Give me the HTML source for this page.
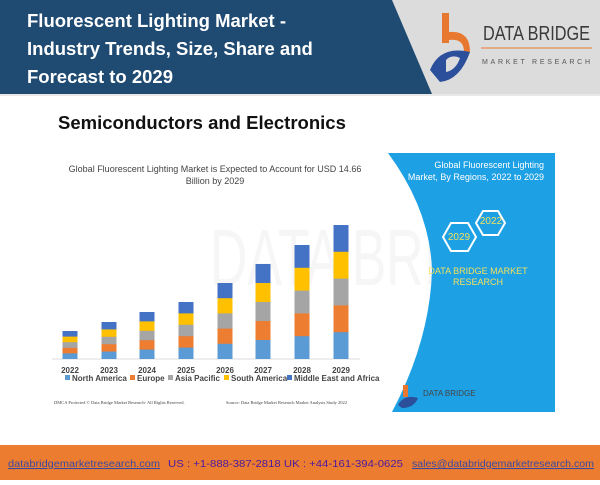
<!DOCTYPE html>
<html><head><meta charset="utf-8"><style>
body{margin:0;width:600px;height:480px;overflow:hidden;background:#fff;font-family:"Liberation Sans",sans-serif}
</style></head><body>
<svg width="600" height="480" viewBox="0 0 600 480" xmlns="http://www.w3.org/2000/svg" font-family="Liberation Sans, sans-serif">
<rect x="0" y="0" width="600" height="94" fill="#1f4a72"/>
<polygon points="392,0 600,0 600,94 432,94" fill="#dcdcdc"/>
<rect x="0" y="94" width="600" height="2" fill="#e8e8e8"/>
<g fill="#fff" font-weight="bold" font-size="18.5">
<text x="27" y="27">Fluorescent Lighting Market -</text>
<text x="27" y="55">Industry Trends, Size, Share and</text>
<text x="27" y="83">Forecast to 2029</text>
</g>
<rect x="442" y="13" width="7" height="30" fill="#e8782f"/>
<path d="M449 32 Q470 30 470 52 L464 52 Q464 38 449 40Z" fill="#e8782f"/>
<path d="M430 70 Q440 45 470 52 Q460 80 440 82 Z" fill="#2c4f9c"/>
<path d="M446 60 Q452 54 460 58 Q456 70 446 72Z" fill="#dcdcdc"/>
<text x="483" y="40" font-size="20" fill="#3a3a3a" textLength="107" lengthAdjust="spacingAndGlyphs">DATA BRIDGE</text>
<line x1="481" y1="48" x2="592" y2="48" stroke="#e8782f" stroke-width="1"/>
<text x="482" y="64" font-size="7" fill="#555" textLength="108" lengthAdjust="spacing">MARKET RESEARCH</text>
<text x="58" y="129" font-size="18.5" font-weight="bold" fill="#111">Semiconductors and Electronics</text>
<text x="210" y="285" font-size="80" fill="#f6f6f6" textLength="340" lengthAdjust="spacingAndGlyphs">DATA BRIDGE</text>
<path d="M388 153 L555 153 L555 412 L392 412 Q430 340 432 270 Q430 210 388 153Z" fill="#1ea0e4"/>
<g fill="#fff" font-size="9" text-anchor="end">
<text x="544" y="168">Global Fluorescent Lighting</text>
<text x="544" y="180">Market, By Regions, 2022 to 2029</text>
</g>
<polygon points="476,223 483,211 498,211 505,223 498,235 483,235" fill="none" stroke="#fff" stroke-width="2"/>
<polygon points="443,237 451,223 468,223 476,237 468,251 451,251" fill="none" stroke="#fff" stroke-width="2"/>
<text x="491" y="224" font-size="10" fill="#f0e060" text-anchor="middle">2022</text>
<text x="459" y="240" font-size="10" fill="#f0e060" text-anchor="middle">2029</text>
<g fill="#f0e060" font-size="9" text-anchor="middle">
<text x="478" y="274">DATA BRIDGE MARKET</text>
<text x="478" y="285">RESEARCH</text>
</g>
<rect x="403" y="385" width="5" height="12" fill="#e8782f"/>
<path d="M398 405 Q404 394 418 398 Q414 408 402 408Z" fill="#2c4f9c"/>
<text x="423" y="396" font-size="8" fill="#444">DATA BRIDGE</text>
<g fill="#444" font-size="9" text-anchor="middle">
<text x="215" y="172">Global Fluorescent Lighting Market is Expected to Account for USD 14.66</text>
<text x="215" y="184">Billion by 2029</text>
</g>
<line x1="52" y1="359" x2="360" y2="359" stroke="#ddd" stroke-width="1"/>
<g>
<g fill="#4472c4">
<rect x="62.5" y="331" width="15" height="28"/><rect x="101.5" y="322" width="15" height="37"/><rect x="139.5" y="312" width="15" height="47"/><rect x="178.5" y="302" width="15" height="57"/><rect x="217.5" y="283" width="15" height="76"/><rect x="255.5" y="264" width="15" height="95"/><rect x="294.5" y="245" width="15" height="114"/><rect x="333.5" y="225" width="15" height="134"/>
</g>
<g fill="#ffc000">
<rect x="62.5" y="336.6" width="15" height="22.4"/><rect x="101.5" y="329.4" width="15" height="29.6"/><rect x="139.5" y="321.4" width="15" height="37.6"/><rect x="178.5" y="313.4" width="15" height="45.6"/><rect x="217.5" y="298.2" width="15" height="60.8"/><rect x="255.5" y="283" width="15" height="76"/><rect x="294.5" y="267.8" width="15" height="91.2"/><rect x="333.5" y="251.8" width="15" height="107.2"/>
</g>
<g fill="#a5a5a5">
<rect x="62.5" y="342.2" width="15" height="16.8"/><rect x="101.5" y="336.8" width="15" height="22.2"/><rect x="139.5" y="330.8" width="15" height="28.2"/><rect x="178.5" y="324.8" width="15" height="34.2"/><rect x="217.5" y="313.4" width="15" height="45.6"/><rect x="255.5" y="302" width="15" height="57"/><rect x="294.5" y="290.6" width="15" height="68.4"/><rect x="333.5" y="278.6" width="15" height="80.4"/>
</g>
<g fill="#ed7d31">
<rect x="62.5" y="347.8" width="15" height="11.2"/><rect x="101.5" y="344.2" width="15" height="14.8"/><rect x="139.5" y="340.2" width="15" height="18.8"/><rect x="178.5" y="336.2" width="15" height="22.8"/><rect x="217.5" y="328.6" width="15" height="30.4"/><rect x="255.5" y="321" width="15" height="38"/><rect x="294.5" y="313.4" width="15" height="45.6"/><rect x="333.5" y="305.4" width="15" height="53.6"/>
</g>
<g fill="#5b9bd5">
<rect x="62.5" y="353.4" width="15" height="5.6"/><rect x="101.5" y="351.6" width="15" height="7.4"/><rect x="139.5" y="349.6" width="15" height="9.4"/><rect x="178.5" y="347.6" width="15" height="11.4"/><rect x="217.5" y="343.8" width="15" height="15.2"/><rect x="255.5" y="340" width="15" height="19"/><rect x="294.5" y="336.2" width="15" height="22.8"/><rect x="333.5" y="332.2" width="15" height="26.8"/>
</g>
</g>
<g fill="#444" font-size="8" font-weight="bold" text-anchor="middle">
<text x="70" y="373">2022</text><text x="109" y="373">2023</text><text x="147" y="373">2024</text><text x="186" y="373">2025</text><text x="225" y="373">2026</text><text x="263" y="373">2027</text><text x="302" y="373">2028</text><text x="341" y="373">2029</text>
</g>
<g font-size="8" font-weight="bold" fill="#444">
<rect x="65" y="375" width="5" height="5" fill="#5b9bd5"/><text x="72" y="381">North America</text>
<rect x="130" y="375" width="5" height="5" fill="#ed7d31"/><text x="137" y="381">Europe</text>
<rect x="168" y="375" width="5" height="5" fill="#a5a5a5"/><text x="175" y="381">Asia Pacific</text>
<rect x="224" y="375" width="5" height="5" fill="#ffc000"/><text x="231" y="381">South America</text>
<rect x="287" y="375" width="5" height="5" fill="#4472c4"/><text x="294" y="381">Middle East and Africa</text>
</g>
<text x="54" y="404" font-size="4.5" fill="#444" font-family="Liberation Serif, serif">DMCA Protected © Data Bridge Market Research- All Rights Reserved.</text>
<text x="226" y="404" font-size="4.5" fill="#444" font-family="Liberation Serif, serif">Source: Data Bridge Market Research Market Analysis Study 2022</text>
<rect x="0" y="445" width="600" height="35" fill="#ec7c30"/>
<g font-size="10.5">
<text x="8" y="467" fill="#3b4aa0" text-decoration="underline" textLength="152" lengthAdjust="spacingAndGlyphs">databridgemarketresearch.com</text>
<text x="168" y="467" fill="#4a1aa0" textLength="235" lengthAdjust="spacingAndGlyphs">US : +1-888-387-2818  UK : +44-161-394-0625</text>
<text x="412" y="467" fill="#3b4aa0" text-decoration="underline" textLength="182" lengthAdjust="spacingAndGlyphs">sales@databridgemarketresearch.com</text>
</g>
</svg>
</body></html>
